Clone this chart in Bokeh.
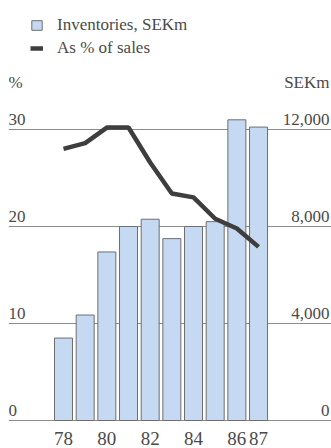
from bokeh.plotting import figure
from bokeh.models import Range1d, FixedTicker, Legend, LegendItem
from bokeh.core.properties import value
from bokeh.embed import file_html
from bokeh.resources import INLINE

# Data
years = [78, 79, 80, 81, 82, 83, 84, 85, 86, 87]
inventories_sekm = [3400, 4350, 6950, 8000, 8300, 7500, 8000, 8200, 12400, 12100]
pct_of_sales = [28.0, 28.6, 30.2, 30.2, 26.6, 23.4, 23.0, 20.8, 19.8, 17.9]

pct_ticks = [0, 10, 20, 30]
pct_labels = ["0", "10", "20", "30"]
sek_ticks = [0, 4000, 8000, 12000]
sek_labels = ["0", "4,000", "8,000", "12,000"]
year_ticks = [78, 80, 82, 84, 86, 87]
year_labels = ["78", "80", "82", "84", "86", "87"]

# Layout
W, H = 331, 448
FRAME_LEFT = 8           # px from canvas left where the frame starts
BASE_PX = 420            # px from top where the zero line sits
PX_PER_PCT = 9.7
FIRST_BAR_PX = 63
BAR_STEP_PX = 21.67
SEK_PER_PCT = 400

FONT = "Liberation Sans Narrow"
TEXT_COLOR = "#4a4a4a"
BAR_FILL = "#c6d9f2"
BAR_LINE = "#6e6e6e"
LINE_COLOR = "#3e3e3e"
GRID_COLOR = "#8c8c8c"

x_start = years[0] - (FIRST_BAR_PX - FRAME_LEFT) / BAR_STEP_PX
x_end = years[0] + (W - FIRST_BAR_PX) / BAR_STEP_PX
y_start = -(H - BASE_PX) / PX_PER_PCT
y_end = BASE_PX / PX_PER_PCT

def y_of_px(px):
    return (BASE_PX - px) / PX_PER_PCT

p = figure(width=W, height=H, output_backend="svg", toolbar_location=None,
           x_range=Range1d(x_start, x_end), y_range=Range1d(y_start, y_end),
           min_border_left=FRAME_LEFT, min_border_right=0,
           min_border_top=0, min_border_bottom=0)
p.extra_y_ranges = {"sek": Range1d(y_start * SEK_PER_PCT, y_end * SEK_PER_PCT)}

p.xaxis.visible = False
p.yaxis.visible = False
p.outline_line_color = None
p.background_fill_color = "white"
p.border_fill_color = "white"
p.xgrid.visible = False
p.ygrid.ticker = FixedTicker(ticks=pct_ticks)
p.ygrid.grid_line_color = GRID_COLOR
p.ygrid.grid_line_width = 1.2

bars = p.vbar(x=years, top=inventories_sekm, width=0.83, bottom=0,
              y_range_name="sek", fill_color=BAR_FILL,
              line_color=BAR_LINE, line_width=1)
line = p.line(x=years, y=pct_of_sales, line_color=LINE_COLOR, line_width=4.5)

# Left (%) and right (SEKm) tick labels sitting on their grid lines
p.text(x=[x_start] * len(pct_ticks), y=pct_ticks, text=pct_labels,
       text_align="left", text_baseline="middle", y_offset=-10,
       text_font=value(FONT), text_font_size="17px", text_color=TEXT_COLOR)
p.text(x=[x_end] * len(sek_ticks), y=sek_ticks, text=sek_labels,
       y_range_name="sek", text_align="right", text_baseline="middle",
       x_offset=-2, y_offset=-10,
       text_font=value(FONT), text_font_size="17px", text_color=TEXT_COLOR)

# Unit captions
p.text(x=[x_start], y=[y_of_px(82)], text=["%"], text_align="left",
       text_baseline="middle", text_font=value(FONT),
       text_font_size="17px", text_color=TEXT_COLOR)
p.text(x=[x_end], y=[y_of_px(82)], text=["SEKm"], text_align="right",
       text_baseline="middle", x_offset=-2, text_font=value(FONT),
       text_font_size="17px", text_color=TEXT_COLOR)

# Year labels under the bars
p.text(x=year_ticks, y=[0] * len(year_ticks), text=year_labels,
       text_align="center", text_baseline="middle", y_offset=18,
       text_font=value(FONT), text_font_size="19px", text_color=TEXT_COLOR)

legend = Legend(items=[LegendItem(label="Inventories, SEKm", renderers=[bars]),
                       LegendItem(label="As % of sales", renderers=[line])],
                location=(22, 390), orientation="vertical",
                glyph_width=13, glyph_height=12, label_standoff=14,
                label_height=20, spacing=3, padding=0, margin=0,
                border_line_color=None, background_fill_alpha=0,
                label_text_font=FONT, label_text_font_size="17px",
                label_text_color=TEXT_COLOR)
p.add_layout(legend)

open("out.html", "w").write(file_html(p, INLINE))
